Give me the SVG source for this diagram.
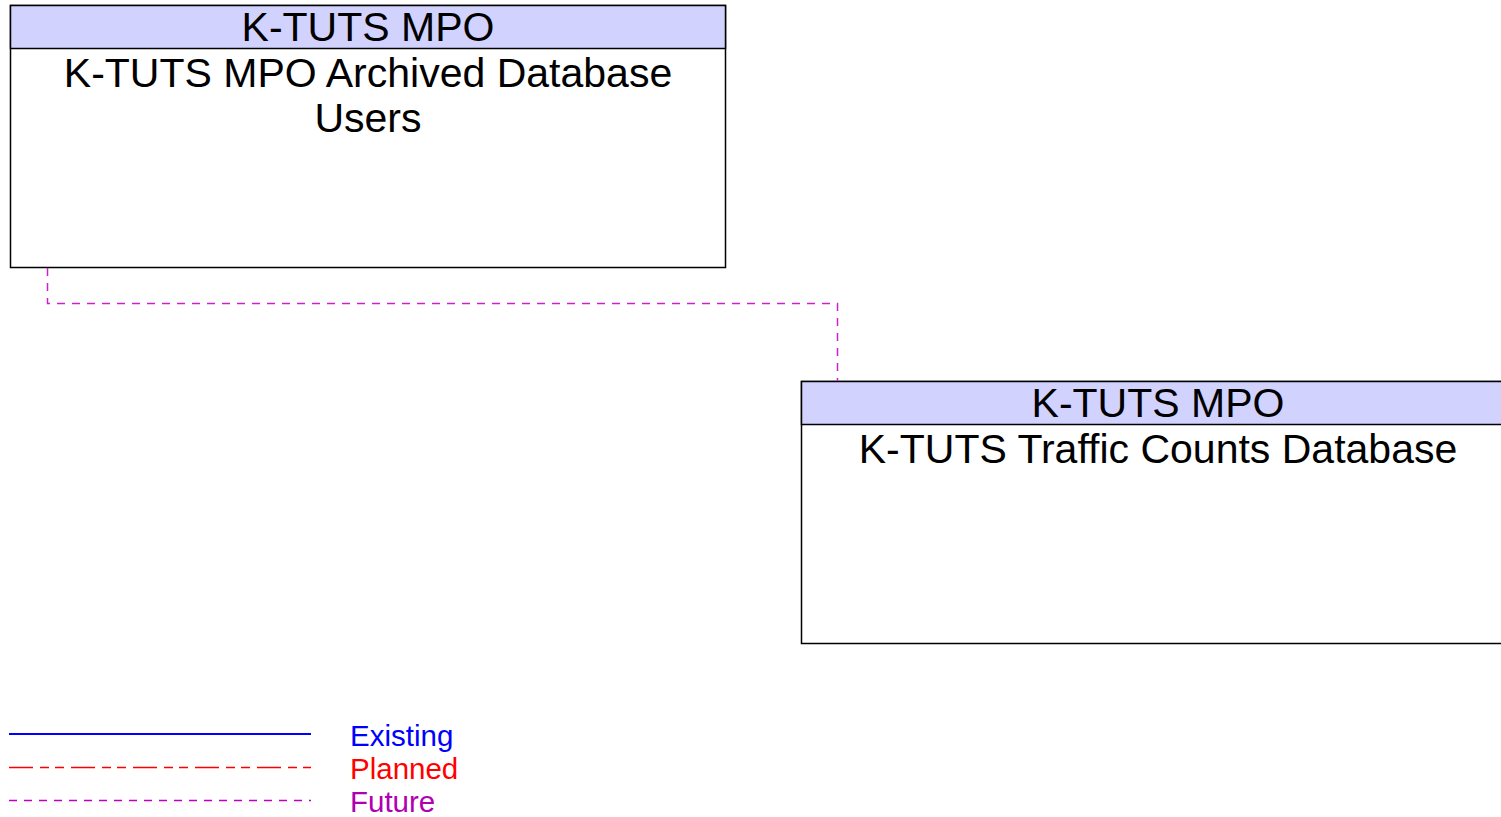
<svg xmlns="http://www.w3.org/2000/svg" width="1501" height="817" viewBox="0 0 1501 817">
<style>
.box{fill:#fff;stroke:#000;stroke-width:1.5}
.hdr{fill:#d2d2ff;stroke:#000;stroke-width:1.5}
.t{font-family:"Liberation Sans",Arial,sans-serif;font-size:41px;fill:#000;text-anchor:middle}
.lg{font-family:"Liberation Sans",Arial,sans-serif;font-size:29.5px}
.future{fill:none;stroke:#cc22cc;stroke-width:1.5;stroke-dasharray:8,7}
</style>
<rect width="1501" height="817" fill="#fff"/>
<g id="node-archived-users">
<rect class="box" x="10.5" y="5.5" width="715" height="262"/>
<rect class="hdr" x="10.5" y="5.5" width="715" height="43"/>
<text class="t" x="368" y="41">K-TUTS MPO</text>
<text class="t" x="368" y="87">K-TUTS MPO Archived Database</text>
<text class="t" x="368" y="132">Users</text>
</g>
<g id="node-traffic-counts">
<rect class="box" x="801.5" y="381.5" width="715" height="262"/>
<rect class="hdr" x="801.5" y="381.5" width="715" height="43"/>
<text class="t" x="1158" y="417">K-TUTS MPO</text>
<text class="t" x="1158" y="463">K-TUTS Traffic Counts Database</text>
</g>
<g id="connectors">
<polyline class="future" points="47.5,268 47.5,303.5 837.5,303.5 837.5,381"/>
</g>
<g id="legend">
<line x1="9" y1="734" x2="311" y2="734" stroke="#0000ff" stroke-width="2"/>
<line x1="9" y1="767.5" x2="311" y2="767.5" stroke="#ff0000" stroke-width="1.5" stroke-dasharray="24,7,9,6,9,7"/>
<line x1="9" y1="800.5" x2="311" y2="800.5" stroke="#c000c0" stroke-width="1.5" stroke-dasharray="8,7"/>
<text class="lg" x="350" y="746" fill="#0000ff">Existing</text>
<text class="lg" x="350" y="779" fill="#ff0000">Planned</text>
<text class="lg" x="350" y="812" fill="#b000b0">Future</text>
</g>
</svg>
